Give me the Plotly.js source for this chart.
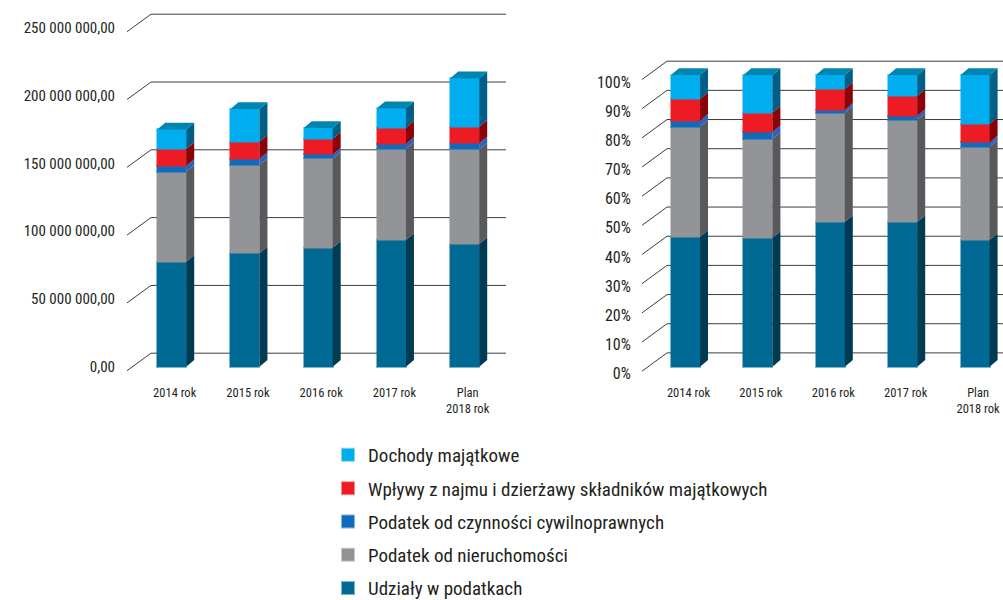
<!DOCTYPE html>
<html lang="pl">
<head>
<meta charset="utf-8">
<script src="https://cdn.plot.ly/plotly-3.0.1.min.js"></script>
<style>html,body{margin:0;padding:0;background:#fff;overflow:hidden}#chart{width:1003px;height:600px;overflow:hidden}</style>
</head>
<body>
<div id="chart"></div>
<script>
// ---- data ----
const categories = ['2014 rok', '2015 rok', '2016 rok', '2017 rok', 'Plan<br>2018 rok'];
const seriesNames = ['Udziały w podatkach', 'Podatek od nieruchomości', 'Podatek od czynności cywilnoprawnych',
  'Wpływy z najmu i dzierżawy składników majątkowych', 'Dochody majątkowe'];

const udzialyPln     = [77400000, 83600000, 87800000, 93400000, 90500000];
const nieruchomosciPln = [66400000, 65100000, 65800000, 67100000, 69800000];
const czynnosciPln   = [4200000, 4500000, 2900000, 3700000, 4400000];
const najemPln       = [12500000, 12700000, 11500000, 12100000, 12300000];
const majatkowePln   = [14500000, 24100000, 8000000, 14300000, 35700000];

const udzialyPct     = [44.5, 44.1, 49.6, 49.6, 43.4];
const nieruchomosciPct = [37.8, 34.0, 37.4, 35.0, 32.0];
const czynnosciPct   = [2.0, 2.3, 1.0, 1.4, 1.5];
const najemPct       = [7.5, 6.7, 7.2, 6.8, 6.3];
const majatkowePct   = [8.2, 12.9, 4.8, 7.2, 16.8];

const ticksPln = [0, 50000000, 100000000, 150000000, 200000000, 250000000];
const tickLabelsPln = ['0,00', '50 000 000,00', '100 000 000,00', '150 000 000,00', '200 000 000,00', '250 000 000,00'];
const ticksPct = [0, 10, 20, 30, 40, 50, 60, 70, 80, 90, 100];
const tickLabelsPct = ['0%', '10%', '20%', '30%', '40%', '50%', '60%', '70%', '80%', '90%', '100%'];

// ---- styling ----
const W = 1003, H = 650;
const FONT = '"Roboto Condensed", Roboto, sans-serif';
const TEXT = '#231f20';
const front = ['#006a94', '#929497', '#0f6cbd', '#ed1c24', '#00aeef'];
const glow  = ['rgba(0,106,148,.5)', 'rgba(146,148,151,.5)', 'rgba(15,108,189,.5)', 'rgba(237,28,36,.5)', 'rgba(0,174,239,.5)'];
const side  = ['#003b54', '#58595b', '#2b62c0', '#8a0308', '#005f86'];
const topFace = '#0085b0';

function buildPanel(o) {
  const n = o.series, traces = [], shapes = [];
  const xIdx = categories.map((_, i) => i);
  const pxX = p => (p - o.c0) / o.step;
  const dx = 8 / o.step, hw = 14.5 / o.step;
  const pyVal = d => d / o.k;
  const dy = pyVal(6.7);
  const stack = xIdx.map(() => 0);
  n.forEach((vals, s) => {
    const rank = 5 - s;
    traces.push({type: 'bar', name: seriesNames[s], x: xIdx, y: vals, xaxis: o.xa, yaxis: o.ya,
      width: 2 * hw, legendgroup: seriesNames[s], legendrank: rank, showlegend: o.legend,
      marker: {color: front[s], line: {color: glow[s], width: 2}}, hoverinfo: 'name+y'});
    const sx = [], sy = [];
    vals.forEach((v, i) => {
      const a = stack[i], b = a + v, r = i + hw;
      sx.push(r, r + dx, r + dx, r, r, null);
      sy.push(a, a + dy, b + dy, b, a, null);
      stack[i] = b;
    });
    traces.push({type: 'scatter', mode: 'lines', x: sx, y: sy, xaxis: o.xa, yaxis: o.ya, fill: 'toself',
      fillcolor: side[s], line: {width: 0, color: side[s]}, legendgroup: seriesNames[s], legendrank: rank, showlegend: false, hoverinfo: 'skip'});
  });
  const tx = [], ty = [];
  xIdx.forEach(i => {
    const l = i - hw, r = i + hw, t = stack[i];
    tx.push(l, l + dx, r + dx, r, l, null);
    ty.push(t, t + dy, t + dy, t, t, null);
  });
  traces.push({type: 'scatter', mode: 'lines', x: tx, y: ty, xaxis: o.xa, yaxis: o.ya, fill: 'toself',
    fillcolor: topFace, line: {width: 0, color: topFace}, legendgroup: seriesNames[4], legendrank: 1, showlegend: false, hoverinfo: 'skip'});

  const xs = pxX(o.left), xw = pxX(o.wall), xe = pxX(o.right);
  o.ticks.forEach(v => {
    shapes.push({type: 'path', xref: o.xa, yref: o.ya, layer: 'below',
      path: `M ${xs},${v - pyVal(o.frontDrop)} L ${xw},${v + pyVal(o.wallRise)} L ${xe},${v + pyVal(o.wallRise)}`,
      line: {color: '#3c3c3c', width: 1}});
  });

  const axisX = {
    domain: [o.left / W, o.right / W], range: [pxX(o.left), pxX(o.right)], tickmode: 'array', tickvals: xIdx, ticktext: categories,
    showgrid: false, zeroline: false, showline: false, ticks: 'outside', ticklen: 5, tickcolor: 'rgba(0,0,0,0)',
    ticklabelshift: 3, tickfont: {family: FONT, size: 12.5, color: TEXT}, anchor: o.ya, fixedrange: true
  };
  const axisY = {
    domain: [1 - o.bottom / H, 1 - o.top / H],
    range: [(o.base - o.bottom) / o.k, (o.base - o.top) / o.k],
    tickmode: 'array', tickvals: o.ticks, ticktext: o.labels,
    showgrid: false, zeroline: false, showline: false, ticks: 'outside', ticklen: o.gap, tickcolor: 'rgba(0,0,0,0)',
    ticklabelshift: o.labelDrop, tickfont: {family: FONT, size: o.fontSize, color: TEXT}, anchor: o.xa, fixedrange: true
  };
  return {traces, shapes, axisX, axisY};
}

const a = buildPanel({series: [udzialyPln, nieruchomosciPln, czynnosciPln, najemPln, majatkowePln],
  xa: 'x', ya: 'y', legend: true, c0: 171.7, step: 73.25, left: 127, wall: 151, right: 506,
  top: 5, bottom: 376, base: 366.7, k: 67.8 / 50000000, ticks: ticksPln, labels: tickLabelsPln,
  frontDrop: 4, wallRise: 13.5, labelDrop: 5.5, gap: 8, fontSize: 15});
const b = buildPanel({series: [udzialyPct, nieruchomosciPct, czynnosciPct, najemPct, majatkowePct],
  xa: 'x2', ya: 'y2', legend: false, c0: 685.5, step: 72.4, left: 642, wall: 667, right: 1003,
  top: 5, bottom: 376, base: 366.7, k: 2.917, ticks: ticksPct, labels: tickLabelsPct,
  frontDrop: 4.5, wallRise: 13.8, labelDrop: 7, gap: 7, fontSize: 16});

const layout = {
  width: W, height: H, margin: {l: 0, r: 0, t: 0, b: 0, pad: 0},
  paper_bgcolor: '#fff', plot_bgcolor: 'rgba(0,0,0,0)', barmode: 'stack', bargap: 0,
  font: {family: FONT, color: TEXT},
  xaxis: a.axisX, yaxis: a.axisY, xaxis2: b.axisX, yaxis2: b.axisY,
  shapes: a.shapes.concat(b.shapes),
  legend: {x: 338 / W, y: 1 - 436 / H, xanchor: 'left', yanchor: 'top', traceorder: 'grouped', indentation: -10,
    tracegroupgap: 5.6, font: {family: FONT, size: 19, color: TEXT}, bgcolor: 'rgba(0,0,0,0)', itemclick: false, itemdoubleclick: false}
};
Plotly.newPlot('chart', a.traces.concat(b.traces), layout, {displayModeBar: false, responsive: false});
</script>
</body>
</html>
